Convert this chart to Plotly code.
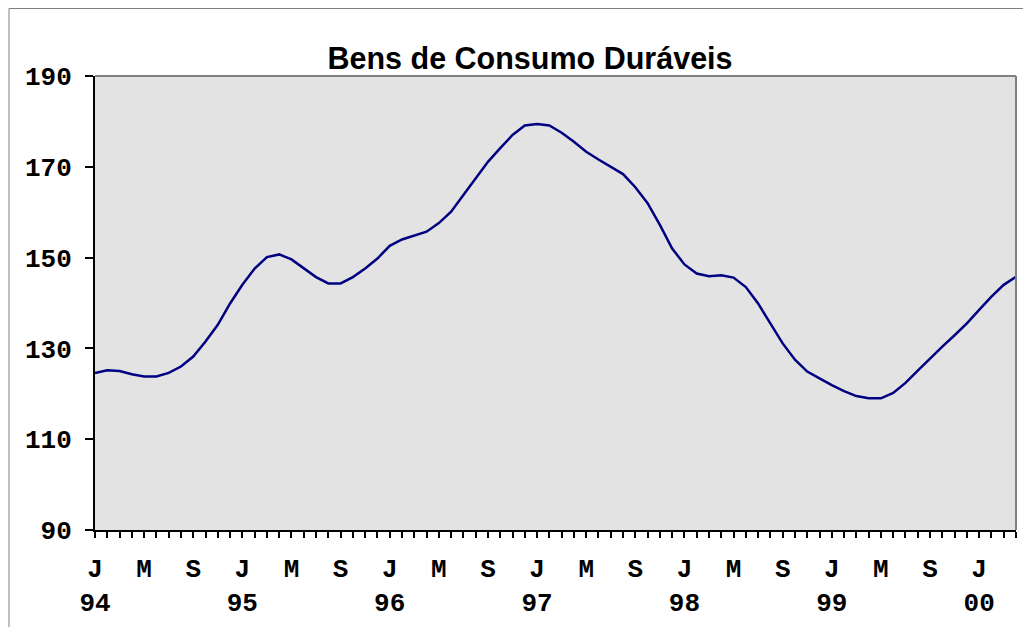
import plotly.graph_objects as go

# Monthly index, Jan 1994 .. Apr 2000
months = [f"{y}-{m:02d}" for y in range(1994, 2001) for m in range(1, 13)][:76]
values = [124.6, 125.2, 125.0, 124.3, 123.8, 123.8, 124.6, 126.0, 128.2, 131.5,
          135.2, 139.9, 144.0, 147.6, 150.1, 150.7, 149.6, 147.6, 145.7, 144.3,
          144.3, 145.7, 147.6, 149.8, 152.6, 154.0, 154.8, 155.7, 157.6, 160.1,
          163.8, 167.5, 171.1, 174.1, 177.0, 179.1, 179.4, 179.1, 177.5, 175.5,
          173.3, 171.6, 170.0, 168.4, 165.5, 162.0, 157.2, 152.0, 148.5, 146.5,
          145.9, 146.1, 145.6, 143.5, 139.9, 135.5, 131.1, 127.5, 124.9, 123.4,
          121.9, 120.6, 119.5, 119.0, 119.0, 120.2, 122.4, 125.1, 127.8, 130.4,
          132.9, 135.5, 138.5, 141.4, 144.0, 145.8]
month_letters = ["J", "M", "S"]
years = ["94", "95", "96", "97", "98", "99", "00"]
y_ticks = [90, 110, 130, 150, 170, 190]

x = list(range(len(months)))
ticktext = []
for i in x:
    if i % 4 == 0:
        letter = month_letters[(i // 4) % 3]
        if letter == "J":
            ticktext.append(f"{letter}<br>{years[i // 12]}")
        else:
            ticktext.append(letter)
    else:
        ticktext.append("")

tick_font = dict(family="Liberation Mono, Courier New, monospace", size=26,
                 color="black", weight="bold")

W, H = 1015, 619
L, T, R, B = 87, 68, 7, 97
pw, ph = W - L - R, H - T - B

fig = go.Figure()
fig.add_trace(go.Scatter(x=x, y=values, mode="lines",
                         line=dict(color="#000080", width=2.5),
                         customdata=months, hoverinfo="skip"))

bx = (1 - L) / pw
by = (H - B - 0.5) / ph

fig.update_layout(
    width=W, height=H,
    margin=dict(l=L, r=R, t=T, b=B),
    paper_bgcolor="white", plot_bgcolor="#E3E3E3",
    showlegend=False,
    title=dict(text="<b>Bens de Consumo Duráveis</b>",
               font=dict(family="Liberation Sans, Arial, sans-serif", size=30.5, color="black"),
               x=522 / W, xanchor="center", xref="container",
               y=1 - 50 / H, yanchor="middle", yref="container"),
    xaxis=dict(range=[0, len(x) - 1], tickmode="array", tickvals=x, ticktext=ticktext,
               showgrid=False, zeroline=False, showline=True, linecolor="black",
               linewidth=2, ticks="outside", ticklen=6, tickwidth=2, tickcolor="black",
               tickfont=tick_font, tickangle=0, ticklabelstandoff=8),
    yaxis=dict(range=[90, 190], tickmode="array", tickvals=y_ticks,
               showgrid=False, zeroline=False, showline=True, linecolor="black",
               linewidth=2, ticks="outside", ticklen=8, tickwidth=2, tickcolor="black",
               tickfont=tick_font, ticklabelstandoff=8),
    shapes=[
        dict(type="line", xref="paper", yref="paper", x0=0, x1=1, y0=1, y1=1,
             line=dict(color="#808080", width=2)),
        dict(type="line", xref="paper", yref="paper", x0=1, x1=1, y0=0, y1=1,
             line=dict(color="#808080", width=2)),
        dict(type="line", xref="paper", yref="paper", x0=bx, x1=1.2,
             y0=by, y1=by, line=dict(color="#808080", width=1)),
        dict(type="line", xref="paper", yref="paper", x0=bx, x1=bx,
             y0=by, y1=-0.4, line=dict(color="#808080", width=1)),
    ],
)

fig.write_html("out.html")
